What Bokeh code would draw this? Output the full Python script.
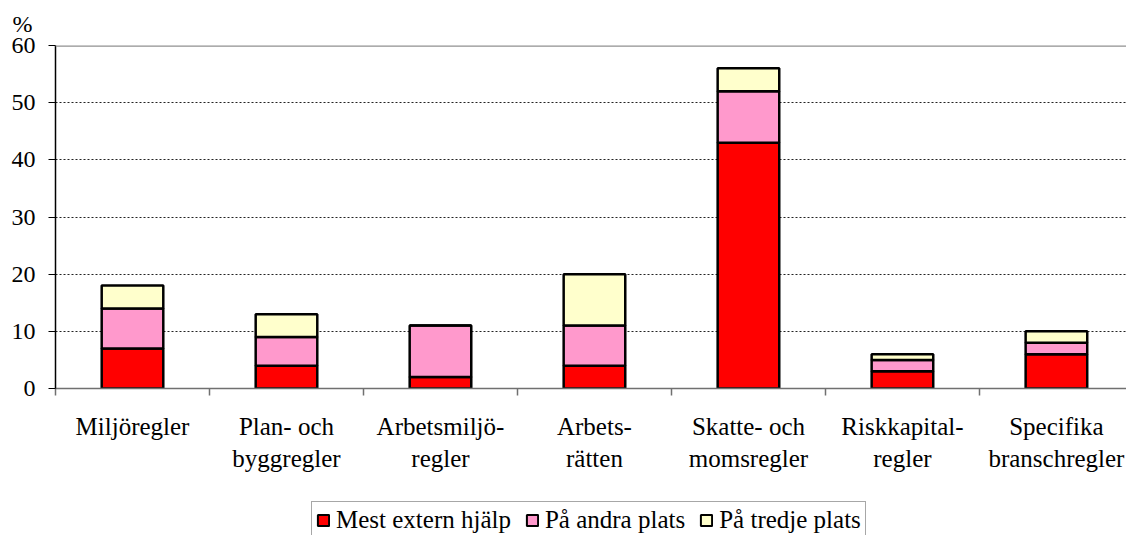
from bokeh.plotting import figure
from bokeh.layouts import column
from bokeh.models import (Range1d, FixedTicker, Span, Title, Legend, LegendItem)
from bokeh.embed import file_html
from bokeh.resources import INLINE

categories = ["Miljöregler", "Plan- och\nbyggregler", "Arbetsmiljö-\nregler", "Arbets-\nrätten",
              "Skatte- och\nmomsregler", "Riskkapital-\nregler", "Specifika\nbranschregler"]
mest_extern = [7, 4, 2, 4, 43, 3, 6]
andra_plats = [7, 5, 9, 7, 9, 2, 2]
tredje_plats = [4, 4, 0, 9, 4, 1, 2]
series_names = ["Mest extern hjälp", "På andra plats", "På tredje plats"]
colors = ["#FF0000", "#FF99CC", "#FFFFCC"]
y_ticks = [0, 10, 20, 30, 40, 50, 60]

FONT = "'Liberation Serif', 'Times New Roman', serif"
xs = list(range(len(categories)))

p = figure(width=1126, height=497, output_backend="svg", toolbar_location=None,
           x_range=Range1d(-0.5, 6.455), y_range=Range1d(0, 60),
           min_border_left=55, min_border_right=0, min_border_top=45, min_border_bottom=109)
p.outline_line_color = None
p.background_fill_color = "white"
p.border_fill_color = "white"

data = dict(x=xs, a=mest_extern, b=andra_plats, c=tredje_plats)
rs = p.vbar_stack(["a", "b", "c"], x="x", width=0.4, source=data,
                  fill_color=colors, line_color="black", line_width=2.5)

# axes
p.xaxis.ticker = FixedTicker(ticks=xs, minor_ticks=[i - 0.5 for i in range(len(categories) + 1)])
p.xaxis.major_label_overrides = {i: c for i, c in enumerate(categories)}
p.xaxis.major_tick_out = 0
p.xaxis.major_tick_in = 0
p.xaxis.minor_tick_out = 7
p.xaxis.minor_tick_in = 0
p.xaxis.minor_tick_line_color = "#707070"
p.xaxis.minor_tick_line_width = 1.5
p.xaxis.axis_line_color = "#707070"
p.xaxis.axis_line_width = 1.5
p.xaxis.major_label_text_font = FONT
p.xaxis.major_label_text_font_size = "25px"
p.xaxis.major_label_text_color = "black"
p.xaxis.major_label_standoff = 17

p.yaxis.ticker = FixedTicker(ticks=y_ticks)
p.yaxis.minor_tick_line_color = None
p.yaxis.major_tick_out = 7
p.yaxis.major_tick_in = 0
p.yaxis.axis_line_color = "black"
p.yaxis.axis_line_width = 1.5
p.yaxis.major_tick_line_color = "black"
p.yaxis.major_label_text_font = FONT
p.yaxis.major_label_text_font_size = "24px"
p.yaxis.major_label_text_color = "black"
p.yaxis.major_label_standoff = 13

p.xgrid.visible = False
p.ygrid.ticker = FixedTicker(ticks=[10, 20, 30, 40, 50])
p.ygrid.grid_line_color = "#222222"
p.ygrid.grid_line_dash = "2 2"
p.ygrid.grid_line_width = 1

p.add_layout(Span(location=60, dimension="width", line_color="#909090", line_width=2.5))

p.add_layout(Title(text="%", align="left", offset=-43, standoff=17,
                   text_font=FONT, text_font_size="24px", text_font_style="normal",
                   text_line_height=0.9, text_color="black"), "above")

# legend strip
p2 = figure(width=1126, height=38, output_backend="svg", toolbar_location=None,
            x_range=Range1d(0, 1), y_range=Range1d(0, 1),
            x_axis_type=None, y_axis_type=None,
            min_border_left=0, min_border_right=0, min_border_top=0, min_border_bottom=0)
p2.grid.visible = False
p2.outline_line_color = None
p2.background_fill_color = "white"
p2.border_fill_color = "white"
# legend swatches: zero-height bars placed outside the visible range
dummies = [p2.vbar(x=[5], top=[0], width=0.1, fill_color=c, line_color="black", line_width=2)
           for c in colors]

legend = Legend(items=[LegendItem(label=n, renderers=[r]) for n, r in zip(series_names, dummies)],
                orientation="horizontal", location=(256, -4),
                label_text_font=FONT, label_text_font_size="25px", label_text_color="black",
                glyph_width=14, glyph_height=14, label_standoff=6, spacing=14,
                padding=4, margin=0, border_line_color="#505050", border_line_width=1,
                background_fill_alpha=1)
p2.add_layout(legend, "center")

layout = column(p, p2, spacing=0)
open("out.html", "w").write(file_html(layout, INLINE))
